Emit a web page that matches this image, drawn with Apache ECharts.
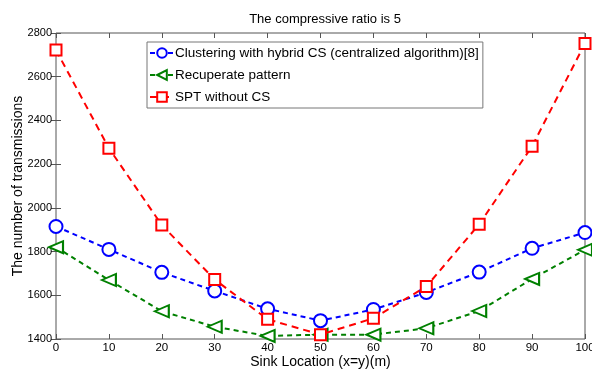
<!DOCTYPE html>
<html><head><meta charset="utf-8">
<script src="https://cdn.jsdelivr.net/npm/echarts@6/dist/echarts.min.js"></script>
<style>html,body{margin:0;padding:0;background:#fff}#c{width:592px;height:372px}</style>
</head><body><div id="c"></div>
<script>
const categories = [0,10,20,30,40,50,60,70,80,90,100];
const clustering = [1915,1810,1705,1620,1538,1484,1535,1613,1706,1815,1887];
const recuperate = [1820,1670,1527,1456,1414,1420,1420,1449,1528,1675,1808];
const spt = [2722,2273,1921,1672,1490,1420,1495,1640,1925,2282,2752];
const yTicks = [1400,1600,1800,2000,2200,2400,2600,2800];
const names = ['Clustering with hybrid CS (centralized algorithm)[8]','Recuperate pattern','SPT without CS'];

const font = 'Liberation Sans, Arial, sans-serif';
const chart = echarts.init(document.getElementById('c'));
function mk(data) { return categories.map((x,k)=>[x,data[k]]); }
chart.setOption({
  animation:false,
  title:{text:'The compressive ratio is 5', left:320, top:8, textAlign:'center',
    textStyle:{fontFamily:font,fontSize:13,fontWeight:'normal',color:'#000'}},
  grid:{left:56,right:7,top:33,bottom:33,show:true,borderColor:'#555',borderWidth:1,
    containLabel:false,outerBoundsMode:'none'},
  legend:{left:147, top:42, orient:'vertical', itemGap:8, itemWidth:24, itemHeight:12,
    borderColor:'#777', borderWidth:1, padding:[4,4,4,2], backgroundColor:'#fff',
    textStyle:{fontFamily:font,fontSize:13.5,color:'#000',padding:[0,0,0,-4]},
    data:names},
  xAxis:[{type:'value',min:0,max:100,interval:10,
    name:'Sink Location (x=y)(m)',nameLocation:'middle',nameGap:16,nameMoveOverlap:false,
    nameTextStyle:{fontFamily:font,fontSize:14,color:'#000'},
    axisLine:{show:false},axisTick:{inside:true,length:5,lineStyle:{color:'#555'}},
    axisLabel:{fontFamily:font,fontSize:11.5,color:'#000',margin:3},splitLine:{show:false}},
   {type:'value',min:0,max:100,interval:10,position:'top',
    axisLine:{show:false},axisTick:{inside:true,length:5,lineStyle:{color:'#555'}},
    axisLabel:{show:false},splitLine:{show:false}}],
  yAxis:[{type:'value',min:yTicks[0],max:yTicks[yTicks.length-1],interval:200,
    name:'The number of transmissions',nameLocation:'middle',nameGap:31,nameMoveOverlap:false,
    nameTextStyle:{fontFamily:font,fontSize:14,color:'#000'},
    axisLine:{show:false},axisTick:{inside:true,length:5,lineStyle:{color:'#555'}},
    axisLabel:{fontFamily:font,fontSize:11,color:'#000',margin:4,formatter:v=>String(v)},splitLine:{show:false}},
   {type:'value',min:yTicks[0],max:yTicks[yTicks.length-1],interval:200,position:'right',
    axisLine:{show:false},axisTick:{inside:true,length:5,lineStyle:{color:'#555'}},
    axisLabel:{show:false},splitLine:{show:false}}],
  series:[
    {name:names[0],type:'line',data:mk(clustering),symbol:'circle',symbolSize:13,
     itemStyle:{color:'#fff',borderColor:'#0000ff',borderWidth:2},
     lineStyle:{color:'#0000ff',width:2,type:[5,4]},z:3},
    {name:names[1],type:'line',data:mk(recuperate),symbol:'triangle',symbolSize:[12,14],symbolRotate:90,
     itemStyle:{color:'#fff',borderColor:'#008000',borderWidth:2},
     lineStyle:{color:'#008000',width:2,type:[5,4]},z:2},
    {name:names[2],type:'line',data:mk(spt),symbol:'rect',symbolSize:11,
     itemStyle:{color:'#fff',borderColor:'#ff0000',borderWidth:2},
     lineStyle:{color:'#ff0000',width:2,type:[7,5]},z:4}
  ]
});
</script></body></html>
